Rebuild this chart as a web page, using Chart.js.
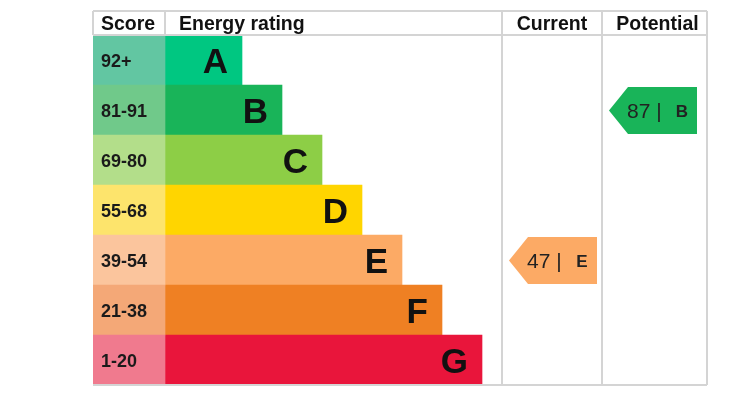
<!DOCTYPE html>
<html lang="en">
<head>
<meta charset="UTF-8">
<title>Energy rating</title>
<script src="https://cdn.jsdelivr.net/npm/chart.js"></script>
<style>
    body { margin: 0; background: #fff; }
    #wrap { width: 751px; height: 404px; }
</style>
</head>
<body>
<div id="wrap"><canvas id="epcChart" width="751" height="404"></canvas></div>
<script>
// data
const ratings = ['A', 'B', 'C', 'D', 'E', 'F', 'G'];
const scoreLabels = ['92+', '81-91', '69-80', '55-68', '39-54', '21-38', '1-20'];
const bandMin = [92, 81, 69, 55, 39, 21, 1];
const ratingLength = [77, 117, 157, 197, 237, 277, 317];
const currentScore = 47;
const potentialScore = 87;

// colours
const barColors = ['#00c781', '#19b459', '#8dce46', '#ffd500', '#fcaa65', '#ef8023', '#e9153b'];
const scoreColors = ['#62c6a2', '#70c98a', '#b3de8a', '#fde46c', '#fbc59d', '#f4a877', '#f07a8e'];

// column layout (x units)
const COL = { score: 72, current: 409, potential: 509, end: 614 };

function bandIndex(score) {
    for (let i = 0; i < bandMin.length; i++) {
        if (score >= bandMin[i]) return i;
    }
    return bandMin.length - 1;
}

const epcPlugin = {
    id: 'epc',
    afterDatasetsDraw(chart) {
        const ctx = chart.ctx;
        const xs = chart.scales.x, ys = chart.scales.y;
        const area = chart.chartArea;
        const rowH = (area.bottom - area.top) / ratings.length;
        const headTop = area.top - 24;
        const xScore = xs.getPixelForValue(COL.score);
        const xCur = xs.getPixelForValue(COL.current);
        const xPot = xs.getPixelForValue(COL.potential);

        ctx.save();
        // score labels and letters
        ratings.forEach((r, i) => {
            const yMid = ys.getPixelForValue(i);
            ctx.fillStyle = '#1a1a1a';
            ctx.font = 'bold 18px "Liberation Sans", Arial, sans-serif';
            ctx.textAlign = 'left';
            ctx.textBaseline = 'alphabetic';
            ctx.fillText(scoreLabels[i], area.left + 8, yMid + 6.5);

            ctx.font = 'bold 35px "Liberation Sans", Arial, sans-serif';
            ctx.textAlign = 'right';
            ctx.fillStyle = '#111';
            ctx.fillText(r, xs.getPixelForValue(COL.score + ratingLength[i]) - 14, yMid + 12.5);
        });

        // header
        ctx.fillStyle = '#111';
        ctx.font = 'bold 19.5px "Liberation Sans", Arial, sans-serif';
        ctx.textAlign = 'left';
        ctx.fillText('Score', area.left + 8, headTop + 19);
        ctx.fillText('Energy rating', xScore + 14, headTop + 19);
        ctx.textAlign = 'center';
        ctx.fillText('Current', (xCur + xPot) / 2, headTop + 19);
        ctx.fillText('Potential', (xPot + area.right) / 2 + 3, headTop + 19);

        // grid lines
        ctx.strokeStyle = '#d4d4d4';
        ctx.lineWidth = 2;
        ctx.beginPath();
        ctx.moveTo(area.left, headTop); ctx.lineTo(area.right, headTop);
        ctx.moveTo(area.left, area.top); ctx.lineTo(area.right, area.top);
        ctx.moveTo(area.left, area.bottom); ctx.lineTo(area.right, area.bottom);
        ctx.moveTo(area.left, headTop); ctx.lineTo(area.left, area.top);
        ctx.moveTo(xScore, headTop); ctx.lineTo(xScore, area.top);
        ctx.moveTo(xCur, headTop); ctx.lineTo(xCur, area.bottom);
        ctx.moveTo(xPot, headTop); ctx.lineTo(xPot, area.bottom);
        ctx.moveTo(area.right, headTop); ctx.lineTo(area.right, area.bottom);
        ctx.stroke();

        // arrows
        const drawArrow = (colLeft, score) => {
            const i = bandIndex(score);
            const yMid = ys.getPixelForValue(i);
            const top = yMid - rowH / 2 + 2, bot = yMid + rowH / 2 - 1;
            const left = colLeft + 7;
            ctx.beginPath();
            ctx.moveTo(left, (top + bot) / 2);
            ctx.lineTo(left + 19, top);
            ctx.lineTo(left + 88, top);
            ctx.lineTo(left + 88, bot);
            ctx.lineTo(left + 19, bot);
            ctx.closePath();
            ctx.fillStyle = barColors[i];
            ctx.fill();

            ctx.fillStyle = '#222';
            ctx.textAlign = 'left';
            ctx.font = '21px "Liberation Sans", Arial, sans-serif';
            ctx.fillText(score + ' |', left + 18, yMid + 7.5);
            ctx.textAlign = 'center';
            ctx.font = 'bold 17px "Liberation Sans", Arial, sans-serif';
            ctx.fillText(ratings[i], left + 73, yMid + 6.5);
        };
        drawArrow(xCur, currentScore);
        drawArrow(xPot, potentialScore);
        ctx.restore();
    }
};

new Chart(document.getElementById('epcChart'), {
    type: 'bar',
    data: {
        labels: ratings,
        datasets: [
            {
                data: ratings.map(() => [0, COL.score]),
                backgroundColor: scoreColors,
                grouped: false,
                barPercentage: 1,
                categoryPercentage: 1,
                borderWidth: 0
            },
            {
                data: ratingLength.map(len => [COL.score, COL.score + len]),
                backgroundColor: barColors,
                grouped: false,
                barPercentage: 1,
                categoryPercentage: 1,
                borderWidth: 0
            }
        ]
    },
    options: {
        indexAxis: 'y',
        responsive: false,
        animation: false,
        layout: { padding: { left: 93, right: 44, top: 35, bottom: 19 } },
        scales: {
            x: { display: false, min: 0, max: COL.end },
            y: { display: false }
        },
        plugins: {
            legend: { display: false },
            tooltip: { enabled: false }
        }
    },
    plugins: [epcPlugin]
});
</script>
</body>
</html>
